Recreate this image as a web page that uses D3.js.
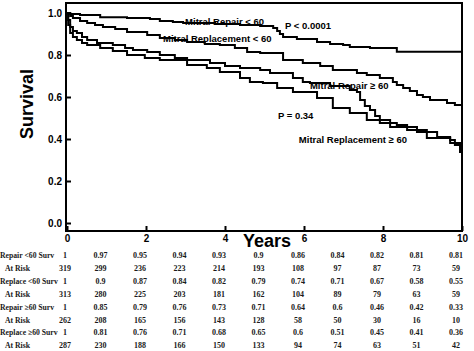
<!DOCTYPE html>
<html><head><meta charset="utf-8">
<script src="https://cdn.jsdelivr.net/npm/d3@7"></script>
<style>body{margin:0;background:#fff} svg{display:block}</style>
</head><body><svg id="c" width="474" height="351"></svg>
<script>
// ---- axis ticks ----
const xTicks = [0, 2, 4, 6, 8, 10];
const yTicks = [0, 0.2, 0.4, 0.6, 0.8, 1.0];

// ---- Kaplan-Meier step curves (time in years, survival) ----
const repairU60Time = [0, 0.08, 0.33, 0.84, 1.52, 2.1, 2.35, 2.68, 2.94, 3.75, 4.38, 4.89, 5.22, 5.32, 5.39, 5.47, 5.82, 6.33, 6.66, 6.99, 7.16, 7.67, 8.35, 10];
const repairU60Surv = [1, 0.995, 0.99, 0.98, 0.976, 0.971, 0.962, 0.957, 0.952, 0.948, 0.943, 0.938, 0.929, 0.914, 0.9, 0.886, 0.876, 0.862, 0.852, 0.848, 0.838, 0.833, 0.815, 0.815];

const replaceU60Time = [0, 0.08, 0.15, 0.33, 0.51, 0.71, 0.91, 1.22, 1.52, 2.03, 2.35, 2.73, 3.04, 3.49, 3.87, 4.25, 4.56, 4.89, 5.47, 5.97, 6.41, 6.73, 7.34, 7.59, 7.92, 8.25, 8.35, 8.51, 8.68, 8.86, 9.01, 9.19, 9.62, 9.82, 10];
const replaceU60Surv = [1, 0.986, 0.976, 0.962, 0.952, 0.943, 0.933, 0.924, 0.91, 0.895, 0.881, 0.871, 0.862, 0.852, 0.848, 0.833, 0.814, 0.81, 0.776, 0.762, 0.748, 0.729, 0.714, 0.705, 0.69, 0.671, 0.657, 0.643, 0.629, 0.61, 0.6, 0.586, 0.571, 0.562, 0.562];

const repairO60Time = [0, 0.03, 0.08, 0.15, 0.25, 0.38, 0.51, 0.76, 1.16, 1.47, 1.67, 2.03, 2.35, 2.73, 3.04, 3.62, 4.0, 4.38, 4.89, 5.14, 5.72, 5.97, 6.15, 6.66, 7.16, 7.34, 7.42, 7.54, 7.67, 7.8, 7.92, 8.35, 8.61, 9.11, 9.7, 9.82, 9.95, 10];
const repairO60Surv = [1, 0.967, 0.933, 0.914, 0.905, 0.886, 0.871, 0.857, 0.848, 0.833, 0.824, 0.814, 0.8, 0.786, 0.776, 0.762, 0.748, 0.738, 0.729, 0.714, 0.69, 0.671, 0.667, 0.652, 0.633, 0.624, 0.586, 0.557, 0.538, 0.51, 0.476, 0.467, 0.443, 0.405, 0.395, 0.371, 0.338, 0.338];

const replaceO60Time = [0, 0.03, 0.08, 0.15, 0.25, 0.38, 0.51, 0.84, 1.16, 1.52, 1.97, 2.35, 3.04, 3.54, 3.87, 4.38, 4.63, 4.96, 5.32, 5.72, 6.33, 6.73, 7.16, 7.59, 8.18, 8.86, 9.37, 9.7, 9.95, 10];
const replaceO60Surv = [1, 0.943, 0.905, 0.886, 0.871, 0.857, 0.848, 0.833, 0.819, 0.8, 0.786, 0.776, 0.752, 0.738, 0.719, 0.69, 0.671, 0.667, 0.643, 0.624, 0.595, 0.548, 0.524, 0.49, 0.457, 0.433, 0.41, 0.381, 0.362, 0.362];

// ---- annotations (text, year, survival at baseline) ----
const annoText = ["Mitral Repair < 60", "Mitral Replacement < 60", "P < 0.0001", "Mitral Repair \u2265 60", "P = 0.34", "Mitral Replacement \u2265 60"];
const annoYear = [2.99, 2.43, 5.52, 6.15, 5.34, 5.87];
const annoSurv = [0.945, 0.86, 0.926, 0.636, 0.493, 0.379];

// ---- table ----
const tableYears = [0, 1, 2, 3, 4, 5, 6, 7, 8, 9, 10];
const rowLabels = ["Repair <60 Surv", "At Risk", "Replace <60 Surv", "At Risk", "Repair \u226560 Surv", "At Risk", "Replace \u226560 Surv", "At Risk"];
const repairU60TableSurv = ["1", "0.97", "0.95", "0.94", "0.93", "0.9", "0.86", "0.84", "0.82", "0.81", "0.81"];
const repairU60Risk = [319, 299, 236, 223, 214, 193, 108, 97, 87, 73, 59];
const replaceU60TableSurv = ["1", "0.9", "0.87", "0.84", "0.82", "0.79", "0.74", "0.71", "0.67", "0.58", "0.55"];
const replaceU60Risk = [313, 280, 225, 203, 181, 162, 104, 89, 79, 63, 59];
const repairO60TableSurv = ["1", "0.85", "0.79", "0.76", "0.73", "0.71", "0.64", "0.6", "0.46", "0.42", "0.33"];
const repairO60Risk = [262, 208, 165, 156, 143, 128, 58, 50, 30, 16, 10];
const replaceO60TableSurv = ["1", "0.81", "0.76", "0.71", "0.68", "0.65", "0.6", "0.51", "0.45", "0.41", "0.36"];
const replaceO60Risk = [287, 230, 188, 166, 150, 133, 94, 74, 63, 51, 42];

// ---- drawing ----
const svg = d3.select("#c");
const x = d3.scaleLinear().domain([0, 10]).range([67, 462]);
const y = d3.scaleLinear().domain([0, 1]).range([223, 13]);
const frameTop = 3, frameBottom = 231;
const sans = "Liberation Sans, Arial, Helvetica, sans-serif";
const serif = "Liberation Serif, Times New Roman, serif";

// frame
svg.append("rect").attr("x", x(0) - 1).attr("y", frameTop).attr("width", x(10) - x(0) + 1)
  .attr("height", frameBottom - frameTop).attr("fill", "none").attr("stroke", "#000").attr("stroke-width", 2);

// y axis
const yAxis = d3.axisLeft(y).tickValues(yTicks).tickFormat(d3.format(".1f")).tickSizeInner(-5).tickSizeOuter(0).tickPadding(4);
const gy = svg.append("g").attr("transform", `translate(${x(0) - 1},0)`).call(yAxis);
gy.select(".domain").remove();
gy.selectAll("line").attr("stroke", "#000").attr("stroke-width", 2);
gy.selectAll("text").attr("font-family", sans).attr("font-weight", "bold").attr("font-size", 10).attr("fill", "#000");

// x axis
const xAxis = d3.axisBottom(x).tickValues(xTicks).tickFormat(d3.format("d")).tickSizeInner(-5).tickSizeOuter(0).tickPadding(4);
const gx = svg.append("g").attr("transform", `translate(0,${frameBottom})`).call(xAxis);
gx.select(".domain").remove();
gx.selectAll("line").attr("stroke", "#000").attr("stroke-width", 2);
gx.selectAll("text").attr("font-family", sans).attr("font-weight", "bold").attr("font-size", 10).attr("fill", "#000");

// axis titles
svg.append("text").attr("x", 243).attr("y", 247).text("Years")
  .attr("font-family", sans).attr("font-weight", "bold").attr("font-size", 18).attr("fill", "#000");
svg.append("text").attr("transform", "translate(33,104) rotate(-90)").attr("text-anchor", "middle").text("Survival")
  .attr("font-family", sans).attr("font-weight", "bold").attr("font-size", 18).attr("fill", "#000");

// curves
const line = d3.line().x(d => x(d[0])).y(d => y(d[1])).curve(d3.curveStepAfter);
const curves = [
  [repairU60Time, repairU60Surv],
  [replaceU60Time, replaceU60Surv],
  [repairO60Time, repairO60Surv],
  [replaceO60Time, replaceO60Surv]
];
svg.append("g").selectAll("path").data(curves).join("path")
  .attr("d", c => line(c[0].map((t, i) => [t, c[1][i]])))
  .attr("fill", "none").attr("stroke", "#000").attr("stroke-width", 2);

// annotations
svg.append("g").selectAll("text").data(annoText).join("text")
  .attr("x", (d, i) => x(annoYear[i])).attr("y", (d, i) => y(annoSurv[i]))
  .text(d => d)
  .attr("font-family", sans).attr("font-weight", "bold").attr("font-size", 9.5).attr("fill", "#000");

// table
const tableRows = [repairU60TableSurv, repairU60Risk, replaceU60TableSurv, replaceU60Risk,
  repairO60TableSurv, repairO60Risk, replaceO60TableSurv, replaceO60Risk];
const rowY = i => 258 + i * 12.9;
const tg = svg.append("g").attr("font-family", serif).attr("font-weight", "bold").attr("fill", "#1a1a1a");
tg.selectAll("text.lab").data(rowLabels).join("text").attr("class", "lab")
  .attr("x", (d, i) => i % 2 ? 5 : 0).attr("y", (d, i) => rowY(i)).attr("font-size", 7.7).text(d => d);
tableRows.forEach((row, r) => {
  tg.selectAll(null).data(row).join("text")
    .attr("x", (d, i) => x(tableYears[i]) - (i === 0 ? 2 : 6)).attr("y", rowY(r))
    .attr("font-size", 8).attr("text-anchor", "middle").text(d => d);
});
</script></body></html>
